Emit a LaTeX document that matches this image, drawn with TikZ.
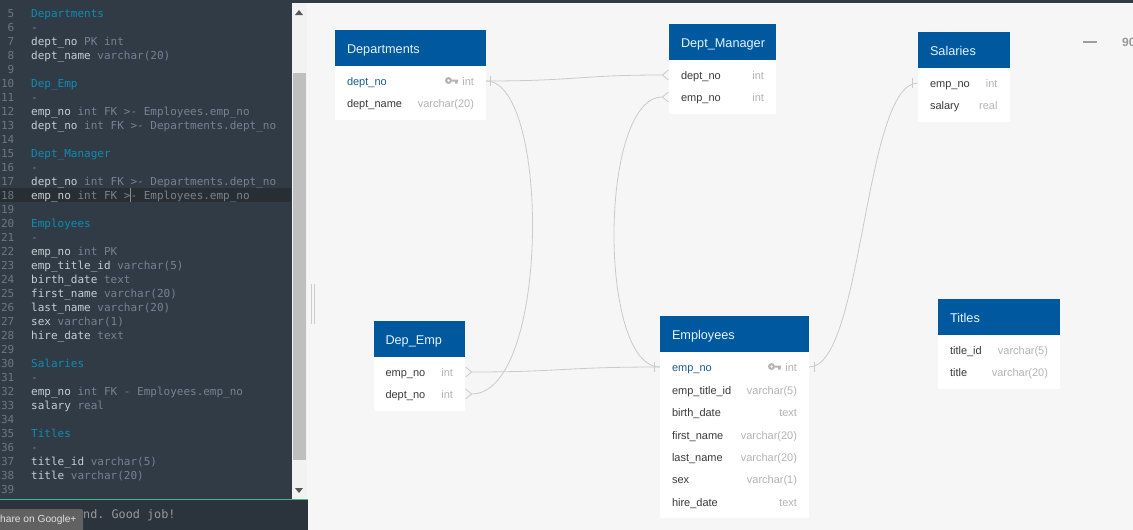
\documentclass[tikz,border=0pt]{standalone}
\usepackage{fontspec}
\setmainfont{Liberation Sans}
\setmonofont{DejaVu Sans Mono}
\usetikzlibrary{arrows.meta}
\definecolor{canvasbg}{HTML}{F6F6F6}
\definecolor{editorbg}{HTML}{303B46}
\definecolor{activebg}{HTML}{282E33}
\definecolor{consolebg}{HTML}{2B343D}
\definecolor{headblue}{HTML}{00589F}
\definecolor{headtxt}{HTML}{E6F3FF}
\definecolor{rowtxt}{HTML}{3A3A3A}
\definecolor{pktxt}{HTML}{1C5A8E}
\definecolor{typetxt}{HTML}{B4B4B4}
\definecolor{linkgray}{HTML}{CACACA}
\definecolor{tealtxt}{HTML}{0E8DB2}
\definecolor{fieldtxt}{HTML}{C6CED5}
\definecolor{sqltxt}{HTML}{76838E}
\definecolor{numtxt}{HTML}{6B7781}
\definecolor{splitgreen}{HTML}{45B58C}
\tikzset{
  tblhead/.style={fill=headblue,text=headtxt,anchor=center,minimum height=36pt,inner xsep=12pt,inner ysep=0pt,align=left,text width=#1,font=\fontsize{12.7}{15}\selectfont,text height=11pt,text depth=1pt},
  tblbody/.style={fill=white,inner sep=0pt},
  tblrow/.style={text=rowtxt,anchor=center,inner xsep=12pt,inner ysep=0pt,align=left,text width=#1,font=\fontsize{11}{13}\selectfont,text height=10pt,text depth=1pt},
  tbltype/.style={text=typetxt,anchor=east,inner sep=0pt,font=\fontsize{11}{13}\selectfont,text height=10pt,text depth=1pt},
  linenum/.style={text=numtxt,anchor=east,inner sep=0pt,font=\ttfamily\fontsize{11}{13}\selectfont,text height=9pt,text depth=1pt},
  codeline/.style={text=fieldtxt,anchor=west,inner sep=0pt,font=\ttfamily\fontsize{11}{13}\selectfont,text height=9pt,text depth=1pt},
  rel/.style={linkgray,line width=0.8pt},
  crow/.tip={Straight Barb[reversed,length=6pt,width=10pt]},
}
\newcommand{\sqlt}[1]{\textcolor{sqltxt}{#1}}
\newcommand{\tealt}[1]{\textcolor{tealtxt}{#1}}
\begin{document}
\begin{tikzpicture}[x=1pt,y=-1pt]
\useasboundingbox (0,0) rectangle (1133,530);
\fill[canvasbg] (0,0) rectangle (1133,530);
\fill[editorbg] (0,0) rectangle (292,499);
\fill[editorbg] (0,0) rectangle (1133,3);
\fill[activebg] (0,188) rectangle (291,202);
\fill[consolebg] (0,499) rectangle (308,530);
\draw[splitgreen,line width=1pt] (0,499) -- (308,499);
\fill[white!95!black] (292,3) rectangle (307,498);
\fill[black!25] (293,73) rectangle (306,460);
\fill[black!65] (295,15) -- (299,10) -- (303,15) -- cycle;
\fill[black!65] (295,488) -- (299,493) -- (303,488) -- cycle;
\draw[black!20,line width=0.8pt] (311.5,284) -- (311.5,324);
\draw[black!20,line width=0.8pt] (314,284) -- (314,324);
\draw[black!45,line width=0.6pt] (130.7,188) -- (130.7,202);

\node[linenum] (num5) at (14.5,13) {5};
\node[codeline] (code5) at (31,13) {\tealt{Departments}};
\node[linenum] (num6) at (14.5,27) {6};
\node[codeline] (code6) at (31,27) {\sqlt{-}};
\node[linenum] (num7) at (14.5,41) {7};
\node[codeline] (code7) at (31,41) {dept\_no \sqlt{PK int}};
\node[linenum] (num8) at (14.5,55) {8};
\node[codeline] (code8) at (31,55) {dept\_name \sqlt{varchar(20)}};
\node[linenum] (num9) at (14.5,69) {9};
\node[linenum] (num10) at (14.5,83) {10};
\node[codeline] (code10) at (31,83) {\tealt{Dep\_Emp}};
\node[linenum] (num11) at (14.5,97) {11};
\node[codeline] (code11) at (31,97) {\sqlt{-}};
\node[linenum] (num12) at (14.5,111) {12};
\node[codeline] (code12) at (31,111) {emp\_no \sqlt{int FK >- Employees.emp\_no}};
\node[linenum] (num13) at (14.5,125) {13};
\node[codeline] (code13) at (31,125) {dept\_no \sqlt{int FK >- Departments.dept\_no}};
\node[linenum] (num14) at (14.5,139) {14};
\node[linenum] (num15) at (14.5,153) {15};
\node[codeline] (code15) at (31,153) {\tealt{Dept\_Manager}};
\node[linenum] (num16) at (14.5,167) {16};
\node[codeline] (code16) at (31,167) {\sqlt{-}};
\node[linenum] (num17) at (14.5,181) {17};
\node[codeline] (code17) at (31,181) {dept\_no \sqlt{int FK >- Departments.dept\_no}};
\node[linenum] (num18) at (14.5,195) {18};
\node[codeline] (code18) at (31,195) {emp\_no \sqlt{int FK >- Employees.emp\_no}};
\node[linenum] (num19) at (14.5,209) {19};
\node[linenum] (num20) at (14.5,223) {20};
\node[codeline] (code20) at (31,223) {\tealt{Employees}};
\node[linenum] (num21) at (14.5,237) {21};
\node[codeline] (code21) at (31,237) {\sqlt{-}};
\node[linenum] (num22) at (14.5,251) {22};
\node[codeline] (code22) at (31,251) {emp\_no \sqlt{int PK}};
\node[linenum] (num23) at (14.5,265) {23};
\node[codeline] (code23) at (31,265) {emp\_title\_id \sqlt{varchar(5)}};
\node[linenum] (num24) at (14.5,279) {24};
\node[codeline] (code24) at (31,279) {birth\_date \sqlt{text}};
\node[linenum] (num25) at (14.5,293) {25};
\node[codeline] (code25) at (31,293) {first\_name \sqlt{varchar(20)}};
\node[linenum] (num26) at (14.5,307) {26};
\node[codeline] (code26) at (31,307) {last\_name \sqlt{varchar(20)}};
\node[linenum] (num27) at (14.5,321) {27};
\node[codeline] (code27) at (31,321) {sex \sqlt{varchar(1)}};
\node[linenum] (num28) at (14.5,335) {28};
\node[codeline] (code28) at (31,335) {hire\_date \sqlt{text}};
\node[linenum] (num29) at (14.5,349) {29};
\node[linenum] (num30) at (14.5,363) {30};
\node[codeline] (code30) at (31,363) {\tealt{Salaries}};
\node[linenum] (num31) at (14.5,377) {31};
\node[codeline] (code31) at (31,377) {\sqlt{-}};
\node[linenum] (num32) at (14.5,391) {32};
\node[codeline] (code32) at (31,391) {emp\_no \sqlt{int FK - Employees.emp\_no}};
\node[linenum] (num33) at (14.5,405) {33};
\node[codeline] (code33) at (31,405) {salary \sqlt{real}};
\node[linenum] (num34) at (14.5,419) {34};
\node[linenum] (num35) at (14.5,433) {35};
\node[codeline] (code35) at (31,433) {\tealt{Titles}};
\node[linenum] (num36) at (14.5,447) {36};
\node[codeline] (code36) at (31,447) {\sqlt{-}};
\node[linenum] (num37) at (14.5,461) {37};
\node[codeline] (code37) at (31,461) {title\_id \sqlt{varchar(5)}};
\node[linenum] (num38) at (14.5,475) {38};
\node[codeline] (code38) at (31,475) {title \sqlt{varchar(20)}};
\node[linenum] (num39) at (14.5,489) {39};

\node[codeline,text=black!40,font=\ttfamily\fontsize{11.8}{14}\selectfont] (console) at (83,514) {nd. Good job!};
\fill[black!62,rounded corners=2pt] (-5,509) rectangle (83,535);
\node[anchor=west,inner sep=0pt,text=white!88!black,font=\fontsize{10.2}{12}\selectfont] (share) at (0,520) {hare on Google+};
\fill[black!38] (1083,41) rectangle (1097,43);
\node[anchor=west,inner sep=0pt,text=black!40,font=\bfseries\fontsize{12}{14}\selectfont] (zoomlevel) at (1122,42) {90};

\node[tblbody,minimum width=151pt,minimum height=54pt] (departments_body) at (410.5,93) {};
\node[tblhead=127pt] (departments) at (410.5,48) {Departments};
\node[tblrow=127pt,text=pktxt] (departments_dept_no) at (410.5,81) {dept\_no};
\node[tbltype] (departments_dept_no_type) at ([xshift=-12pt]departments_dept_no.east) {int};
\node[tblrow=127pt] (departments_dept_name) at (410.5,103) {dept\_name};
\node[tbltype] (departments_dept_name_type) at ([xshift=-12pt]departments_dept_name.east) {varchar(20)};

\node[tblbody,minimum width=107pt,minimum height=54pt] (manager_body) at (722.5,87) {};
\node[tblhead=83pt] (manager) at (722.5,42) {Dept\_Manager};
\node[tblrow=83pt] (manager_dept_no) at (722.5,75) {dept\_no};
\node[tbltype] (manager_dept_no_type) at ([xshift=-12pt]manager_dept_no.east) {int};
\node[tblrow=83pt] (manager_emp_no) at (722.5,97) {emp\_no};
\node[tbltype] (manager_emp_no_type) at ([xshift=-12pt]manager_emp_no.east) {int};

\node[tblbody,minimum width=91.5pt,minimum height=54pt] (salaries_body) at (963.75,95) {};
\node[tblhead=67.5pt] (salaries) at (963.75,50) {Salaries};
\node[tblrow=67.5pt] (salaries_emp_no) at (963.75,83) {emp\_no};
\node[tbltype] (salaries_emp_no_type) at ([xshift=-12pt]salaries_emp_no.east) {int};
\node[tblrow=67.5pt] (salaries_salary) at (963.75,105) {salary};
\node[tbltype] (salaries_salary_type) at ([xshift=-12pt]salaries_salary.east) {real};

\node[tblbody,minimum width=91.5pt,minimum height=54pt] (depemp_body) at (419.25,384) {};
\node[tblhead=67.5pt] (depemp) at (419.25,339) {Dep\_Emp};
\node[tblrow=67.5pt] (depemp_emp_no) at (419.25,372) {emp\_no};
\node[tbltype] (depemp_emp_no_type) at ([xshift=-12pt]depemp_emp_no.east) {int};
\node[tblrow=67.5pt] (depemp_dept_no) at (419.25,394) {dept\_no};
\node[tbltype] (depemp_dept_no_type) at ([xshift=-12pt]depemp_dept_no.east) {int};

\node[tblbody,minimum width=149pt,minimum height=166pt] (employees_body) at (734.5,435) {};
\node[tblhead=125pt] (employees) at (734.5,334) {Employees};
\node[tblrow=125pt,text=pktxt] (employees_emp_no) at (734.5,367) {emp\_no};
\node[tbltype] (employees_emp_no_type) at ([xshift=-12pt]employees_emp_no.east) {int};
\node[tblrow=125pt] (employees_title) at (734.5,389.5) {emp\_title\_id};
\node[tbltype] (employees_title_type) at ([xshift=-12pt]employees_title.east) {varchar(5)};
\node[tblrow=125pt] (employees_birth) at (734.5,412) {birth\_date};
\node[tbltype] (employees_birth_type) at ([xshift=-12pt]employees_birth.east) {text};
\node[tblrow=125pt] (employees_first) at (734.5,434.5) {first\_name};
\node[tbltype] (employees_first_type) at ([xshift=-12pt]employees_first.east) {varchar(20)};
\node[tblrow=125pt] (employees_last) at (734.5,457) {last\_name};
\node[tbltype] (employees_last_type) at ([xshift=-12pt]employees_last.east) {varchar(20)};
\node[tblrow=125pt] (employees_sex) at (734.5,479) {sex};
\node[tbltype] (employees_sex_type) at ([xshift=-12pt]employees_sex.east) {varchar(1)};
\node[tblrow=125pt] (employees_hire) at (734.5,502) {hire\_date};
\node[tbltype] (employees_hire_type) at ([xshift=-12pt]employees_hire.east) {text};

\node[tblbody,minimum width=122pt,minimum height=54pt] (titles_body) at (999,362) {};
\node[tblhead=98pt] (titles) at (999,317) {Titles};
\node[tblrow=98pt] (titles_title_id) at (999,350) {title\_id};
\node[tbltype] (titles_title_id_type) at ([xshift=-12pt]titles_title_id.east) {varchar(5)};
\node[tblrow=98pt] (titles_title) at (999,372) {title};
\node[tbltype] (titles_title_type) at ([xshift=-12pt]titles_title.east) {varchar(20)};

\fill[typetxt,even odd rule] (448.5,80.5) circle (3.5pt) (448.5,80.5) circle (1.5pt);
\fill[typetxt] (451.5,79.5) rectangle (458,81.5) (455,81.5) rectangle (457.5,83.5);
\fill[typetxt,even odd rule] (771.5,366.5) circle (3.5pt) (771.5,366.5) circle (1.5pt);
\fill[typetxt] (774.5,365.5) rectangle (781,367.5) (778,367.5) rectangle (780.5,369.5);

\draw[rel,-crow] (departments_dept_no.east) .. controls ([xshift=90pt]departments_dept_no.east) and ([xshift=-90pt]manager_dept_no.west) .. (manager_dept_no.west);
\draw[rel,-crow] (departments_dept_no.east) .. controls ([xshift=64pt]departments_dept_no.east) and ([xshift=85pt]depemp_dept_no.east) .. (depemp_dept_no.east);
\draw[rel,-crow] (employees_emp_no.west) .. controls ([xshift=-62pt]employees_emp_no.west) and ([xshift=-70pt]manager_emp_no.west) .. (manager_emp_no.west);
\draw[rel,-crow] (employees_emp_no.west) .. controls ([xshift=-97pt]employees_emp_no.west) and ([xshift=97pt]depemp_emp_no.east) .. (depemp_emp_no.east);
\draw[rel] (employees_emp_no.east) .. controls ([xshift=54pt]employees_emp_no.east) and ([xshift=-54pt]salaries_emp_no.west) .. (salaries_emp_no.west);

\draw[rel] ([shift={(4.5,-5)}]departments_dept_no.east) -- ([shift={(4.5,5)}]departments_dept_no.east);
\draw[rel] ([shift={(-5,-5)}]employees_emp_no.west) -- ([shift={(-5,5)}]employees_emp_no.west);
\draw[rel] ([shift={(5,-5)}]employees_emp_no.east) -- ([shift={(5,5)}]employees_emp_no.east);
\draw[rel] ([shift={(-5,-5)}]salaries_emp_no.west) -- ([shift={(-5,5)}]salaries_emp_no.west);
\end{tikzpicture}
\end{document}
